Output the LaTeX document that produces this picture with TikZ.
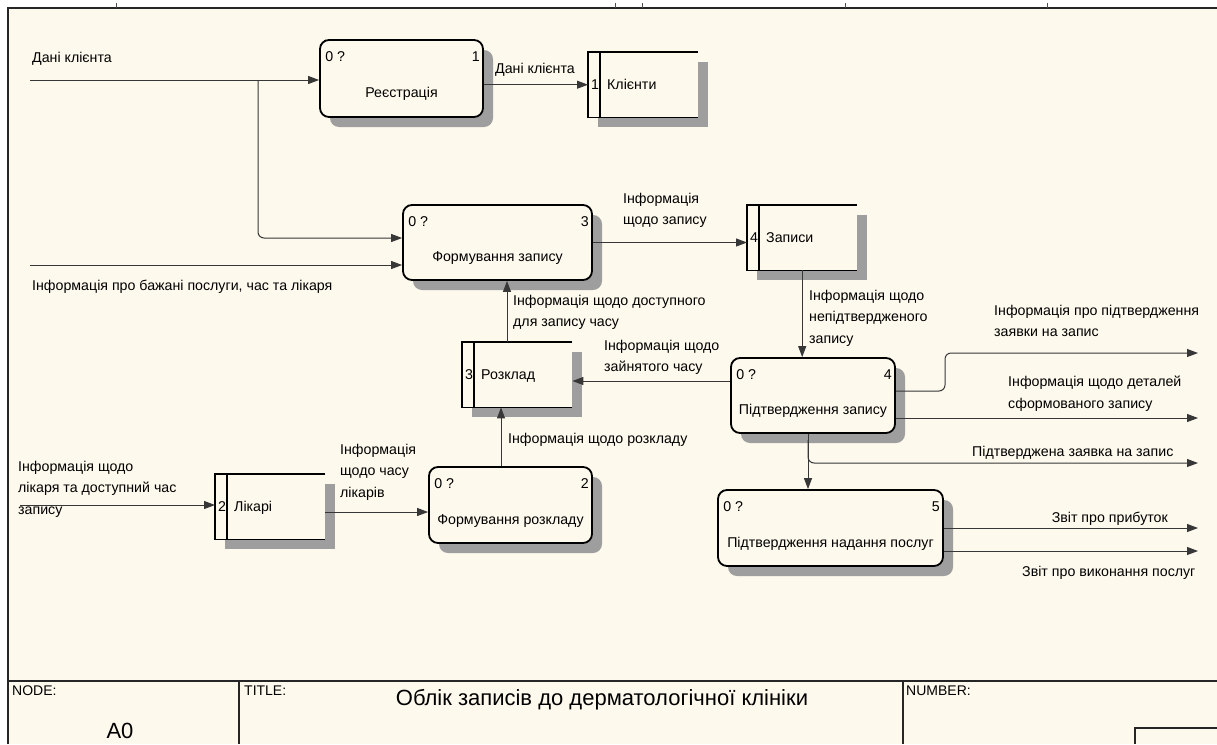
\documentclass[tikz,border=0pt]{standalone}
\usepackage{fontspec}
\setmainfont{Liberation Sans}
\usetikzlibrary{arrows.meta}
\definecolor{paper}{RGB}{254,249,237}
\definecolor{flowc}{RGB}{55,55,55}
\definecolor{shadowgray}{RGB}{158,158,158}
\newcommand{\lblfont}{\fontsize{14.2}{21.5}\selectfont}
\newcommand{\smlfont}{\fontsize{14}{16}\selectfont}

% activity box: name, centre x, centre y, width, height, number, title
\newcommand{\actbox}[7]{%
  \node[procshadow, minimum width=#4pt, minimum height=#5pt] at (#2+10,#3+10) {};
  \node[proc, minimum width=#4pt, minimum height=#5pt] (#1) at (#2,#3) {};
  \draw[line width=1pt] ([xshift=1pt,yshift=-6.5pt]#1.north west) -- ([xshift=6.5pt,yshift=-1pt]#1.north west);
  \node[boxtxt, anchor=north west] (#1-q) at ([xshift=6pt,yshift=-12pt]#1.north west) {0 ?};
  \node[boxtxt, anchor=north east] (#1-n) at ([xshift=-4pt,yshift=-12pt]#1.north east) {#6};
  \node[boxtxt, anchor=base] (#1-t) at ([yshift=-19pt]#1.center) {#7};
}
% data store, open on the right: name, left x, top y, number, title
\newcommand{\datastore}[5]{%
  \fill[shadowgray] (#2+10,#3+10) rectangle (#2+120,#3+75);
  \node[storebox, anchor=north west] (#1) at (#2,#3) {};
  \fill[paper] (#1.north west) rectangle (#1.south east);
  \draw[line width=1.8pt] (#1.north east) -- (#1.north west) -- (#1.south west) -- (#1.south east);
  \draw[line width=1.8pt] ([xshift=12pt]#1.north west) -- ([xshift=12pt]#1.south west);
  \node[boxtxt, anchor=base west] (#1-n) at ([xshift=3pt,yshift=-5pt]#1.west) {#4};
  \node[boxtxt, anchor=base west] (#1-t) at ([xshift=19pt,yshift=-5pt]#1.west) {#5};
}

\begin{document}
\begin{tikzpicture}[x=1pt,y=-1pt,
  proc/.style={draw=black, line width=1.8pt, rounded corners=9pt, fill=paper, inner sep=0pt},
  procshadow/.style={fill=shadowgray, rounded corners=9pt, inner sep=0pt},
  storebox/.style={inner sep=0pt, minimum width=110pt, minimum height=65pt},
  boxtxt/.style={font=\lblfont, inner sep=0pt},
  flow/.style={draw=flowc, line width=1pt, -{Triangle[length=11pt,width=8pt]}},
  lbl/.style={font=\lblfont, align=left, inner sep=0pt, anchor=north west},
  frame/.style={draw=black!85, line width=1.3pt},
  tick/.style={draw=black!70, line width=0.8pt}
]
\useasboundingbox (0,0) rectangle (1217,744);
\fill[white] (0,0) rectangle (1217,744);
\fill[paper] (8,8) rectangle (1217,744);

% sheet frame and ruler ticks
\draw[frame] (8,744) -- (8,8) -- (1217,8);
\foreach \t in {116,615,642,845,1047} \draw[tick] (\t,3) -- (\t,8);

% activities
\actbox{p1}{401.5}{78.5}{163}{77}{1}{Реєстрація}
\actbox{p3}{497.5}{242.5}{189}{75}{3}{Формування запису}
\actbox{p4}{813}{395.5}{164}{75}{4}{Підтвердження запису}
\actbox{p2}{510.5}{505}{163}{76}{2}{Формування розкладу}
\actbox{p5}{830.5}{528}{225}{76}{5}{Підтвердження надання послуг}

% data stores
\datastore{d1}{588}{52}{1}{Клієнти}
\datastore{d4}{747}{205}{4}{Записи}
\datastore{d3}{462}{342}{3}{Розклад}
\datastore{d2}{215}{474}{2}{Лікарі}

% boundary points
\coordinate (in1) at (30,80);
\coordinate (br1) at (258,80);
\coordinate (in2) at (30,265);
\coordinate (in3) at (20,505);
\coordinate (o1) at (1198,353);
\coordinate (o2) at (1198,418);
\coordinate (o3) at (1198,463);
\coordinate (o4) at (1198,528);
\coordinate (o5) at (1198,551);

% flows
\draw[flow] (in1) -- (in1 -| p1.west);
\draw[flow, rounded corners=6pt] (br1) -- (258,238) -- (p3.west |- 0,238);
\draw[flow] (in2) -- (in2 -| p3.west);
\draw[flow] (p1.east |- d1.west) -- (d1.west);
\draw[flow] (p3.east) -- (p3.east -| d4.west);
\draw[flow] (d4.south) -- (d4.south |- p4.north);
\draw[flow] (p4.west |- 0,381) -- (d3.east |- 0,381);
\draw[flow] (d3.north -| 507,0) -- (p3.south -| 507,0);
\draw[flow] (p2.north -| 501,0) -- (d3.south -| 501,0);
\draw[flow] (in3) -- (in3 -| d2.west);
\draw[flow] (d2.east |- 0,512) -- (p2.west |- 0,512);
\draw[flow, rounded corners=6pt] (p4.east |- 0,391) -- (945,391) -- (945,353) -- (o1);
\draw[flow] (p4.east |- o2) -- (o2);
\draw[flow] (p4.south -| 808,0) -- (p5.north -| 808,0);
\draw[flow, rounded corners=6pt] (808,440) -- (808,463) -- (o3);
\draw[flow] (p5.east |- o4) -- (o4);
\draw[flow] (p5.east |- o5) -- (o5);

% flow labels
\node[lbl] (l1) at (32,52) {Дані клієнта};
\node[lbl] (l2) at (495,63) {Дані клієнта};
\node[lbl] (l3) at (623,193) {Інформація\\щодо запису};
\node[lbl] (l4) at (32,280) {Інформація про бажані послуги, час та лікаря};
\node[lbl] (l5) at (513,295) {Інформація щодо доступного\\для запису часу};
\node[lbl] (l6) at (809,290) {Інформація щодо\\непідтвердженого\\запису};
\node[lbl] (l7) at (994,305) {Інформація про підтвердження\\заявки на запис};
\node[lbl] (l8) at (604,340) {Інформація щодо\\зайнятого часу};
\node[lbl] (l9) at (1008,376) {Інформація щодо деталей\\сформованого запису};
\node[lbl] (l10) at (508,433) {Інформація щодо розкладу};
\node[lbl] (l11) at (972,446) {Підтверджена заявка на запис};
\node[lbl] (l12) at (18,461) {Інформація щодо\\лікаря та доступний час\\запису};
\node[lbl] (l13) at (340,444) {Інформація\\щодо часу\\лікарів};
\node[lbl, anchor=north east] (l14) at (1168,512) {Звіт про прибуток};
\node[lbl] (l15) at (1022,566) {Звіт про виконання послуг};

% title block
\draw[frame] (8,681) -- (1217,681);
\draw[frame] (239,681) -- (239,744);
\draw[frame] (903,681) -- (903,744);
\draw[frame] (1135,744) -- (1135,728) -- (1217,728);
\node[font=\smlfont, inner sep=0pt, anchor=north west] (tnode) at (12,686) {NODE:};
\node[font=\fontsize{22}{24}\selectfont, inner sep=0pt] (tnum) at (120,731) {A0};
\node[font=\smlfont, inner sep=0pt, anchor=north west] (ttl) at (244,686) {TITLE:};
\node[font=\fontsize{22}{26}\selectfont, inner sep=0pt] (tname) at (602,700) {Облік записів до дерматологічної клініки};
\node[font=\smlfont, inner sep=0pt, anchor=north west] (tnr) at (906,686) {NUMBER:};
\end{tikzpicture}
\end{document}
